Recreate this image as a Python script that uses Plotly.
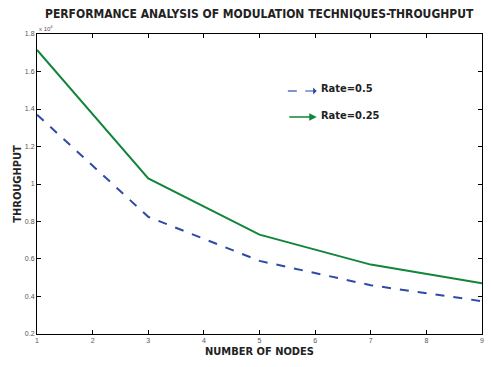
import plotly.graph_objects as go

nodes = [1, 3, 5, 7, 9]
rate_05 = [13700, 8250, 5900, 4600, 3750]
rate_025 = [17150, 10300, 7300, 5700, 4700]
y_tick_vals = [2000, 4000, 6000, 8000, 10000, 12000, 14000, 16000, 18000]
y_tick_text = ["0.2", "0.4", "0.6", "0.8", "1", "1.2", "1.4", "1.6", "1.8"]
x_tick_vals = [1, 2, 3, 4, 5, 6, 7, 8, 9]

W, H = 491, 367
L, R, T, B = 37, 7, 34, 33
pw, ph = W - L - R, H - T - B

def px(x):
    return (x - L) / pw

def py(y):
    return (H - B - y) / ph

blue = "#2E4AA8"
green = "#12853A"
cond = "DejaVu Sans Condensed, Liberation Sans Narrow, sans-serif"

fig = go.Figure()
fig.add_trace(go.Scatter(x=nodes, y=rate_05, mode="lines", name="Rate=0.5",
                         line=dict(color=blue, width=2, dash="dash")))
fig.add_trace(go.Scatter(x=nodes, y=rate_025, mode="lines", name="Rate=0.25",
                         line=dict(color=green, width=2)))

axis_common = dict(showgrid=False, zeroline=False, showline=True, linecolor="black",
                   linewidth=1, mirror="ticks", ticks="inside", ticklen=4,
                   tickcolor="black", tickfont=dict(size=7, color="#555555", family="Arial"))

fig.update_xaxes(range=[0.9995, 9.0005], tickvals=x_tick_vals, ticktext=[str(v) for v in x_tick_vals],
                 title=dict(text="<b>NUMBER OF NODES</b>", font=dict(size=11, family=cond, color="#222"),
                            standoff=3), **axis_common)
fig.update_yaxes(range=[1999, 18001], tickvals=y_tick_vals, ticktext=y_tick_text,
                 title=dict(text="<b>THROUGHPUT</b>", font=dict(size=11, family=cond, color="#222"),
                            standoff=1), **axis_common)

annotations = [
    dict(text="<b>PERFORMANCE ANALYSIS OF MODULATION TECHNIQUES-THROUGHPUT</b>",
         x=px(260), y=py(14), xref="paper", yref="paper", showarrow=False,
         font=dict(size=12, family=cond, color="#222"), xanchor="center", yanchor="middle"),
    dict(text="x 10<sup>4</sup>", x=px(37), y=py(28), xref="paper", yref="paper",
         showarrow=False, font=dict(size=6, color="#555", family="Arial"),
         xanchor="left", yanchor="middle"),
    # legend-like arrows
    dict(x=px(318), y=py(91), xref="paper", yref="paper", ax=-13, ay=0, text="",
         showarrow=True, arrowhead=1, arrowsize=1, arrowwidth=1.2, arrowcolor=blue),
    dict(x=px(318), y=py(117), xref="paper", yref="paper", ax=-29, ay=0, text="",
         showarrow=True, arrowhead=2, arrowsize=1, arrowwidth=1.5, arrowcolor=green),
    dict(text="<b>Rate=0.5</b>", x=px(320), y=py(88), xref="paper", yref="paper",
         showarrow=False, xanchor="left", yanchor="middle",
         font=dict(size=11, family=cond, color="#222")),
    dict(text="<b>Rate=0.25</b>", x=px(320), y=py(115), xref="paper", yref="paper",
         showarrow=False, xanchor="left", yanchor="middle",
         font=dict(size=11, family=cond, color="#222")),
]

shapes = [
    dict(type="line", xref="paper", yref="paper", x0=px(289), x1=px(298),
         y0=py(91), y1=py(91), line=dict(color=blue, width=1.2)),
]

fig.update_layout(width=W, height=H, margin=dict(l=L, r=R, t=T, b=B),
                  paper_bgcolor="white", plot_bgcolor="white", showlegend=False,
                  annotations=annotations, shapes=shapes)

fig.write_html("out.html", config={"displayModeBar": False},
               post_script="document.body.style.margin='0px';")
